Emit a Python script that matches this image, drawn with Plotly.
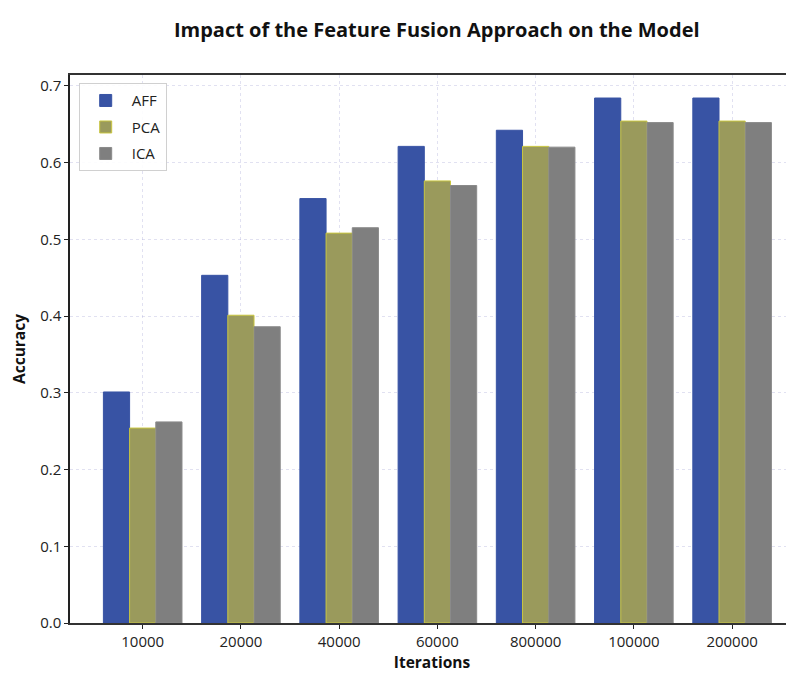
import plotly.graph_objects as go

categories = ["10000", "20000", "40000", "60000", "800000", "100000", "200000"]
aff = [0.301, 0.453, 0.553, 0.621, 0.642, 0.684, 0.684]
pca = [0.254, 0.401, 0.508, 0.576, 0.621, 0.654, 0.654]
ica = [0.262, 0.386, 0.515, 0.570, 0.620, 0.652, 0.652]

series = [
    ("AFF", aff, "#3853a4", "#3853a4"),
    ("PCA", pca, "#9a9a5c", "#c9c640"),
    ("ICA", ica, "#7f7f7f", "#8a8a8a"),
]

fig = go.Figure()
for name, vals, col, edge in series:
    fig.add_trace(go.Bar(
        x=categories, y=vals, name=name, legendgroup=name,
        marker=dict(color=col, line=dict(color=edge, width=1)),
    ))

font_family = "Open Sans, Noto Sans, DejaVu Sans, sans-serif"
fig.update_layout(
    width=794, height=675,
    margin=dict(l=62, r=8, t=67, b=60),
    paper_bgcolor="white", plot_bgcolor="white",
    barmode="group", bargap=0.2, bargroupgap=0,
    font=dict(family=font_family, size=15, color="#222"),
    title=dict(text="<b>Impact of the Feature Fusion Approach on the Model</b>",
               x=0.54, xanchor="center", y=0.967, yanchor="middle",
               font=dict(size=20, color="#111")),
    legend=dict(x=0.012, y=0.985, xanchor="left", yanchor="top",
                bgcolor="rgba(255,255,255,0.9)", bordercolor="#d0d0d0", borderwidth=1,
                font=dict(size=15, color="#222"), itemwidth=42,
                tracegroupgap=4),
    showlegend=True,
)
fig.update_xaxes(
    type="category", range=[-0.74, 6.63],
    showline=True, linecolor="#333", linewidth=1.6, mirror=True,
    showgrid=True, gridcolor="rgba(170,170,215,0.35)", gridwidth=1, griddash="dot",
    ticks="outside", ticklen=4, tickcolor="#222",
    tickfont=dict(size=15, color="#222"),
    title=dict(text="<b>Iterations</b>", font=dict(size=15.5, color="#111"), standoff=7),
)
fig.update_yaxes(
    range=[0, 0.714], tickvals=[0, 0.1, 0.2, 0.3, 0.4, 0.5, 0.6, 0.7],
    tickformat=".1f",
    showline=True, linecolor="#222", linewidth=1.5,
    showgrid=True, gridcolor="rgba(170,170,215,0.35)", gridwidth=1, griddash="dot",
    zeroline=False,
    ticks="outside", ticklen=4, tickcolor="#222",
    tickfont=dict(size=15, color="#222"),
    title=dict(text="<b>Accuracy</b>", font=dict(size=15.5, color="#111"), standoff=12),
)

fig.write_html("out.html")
